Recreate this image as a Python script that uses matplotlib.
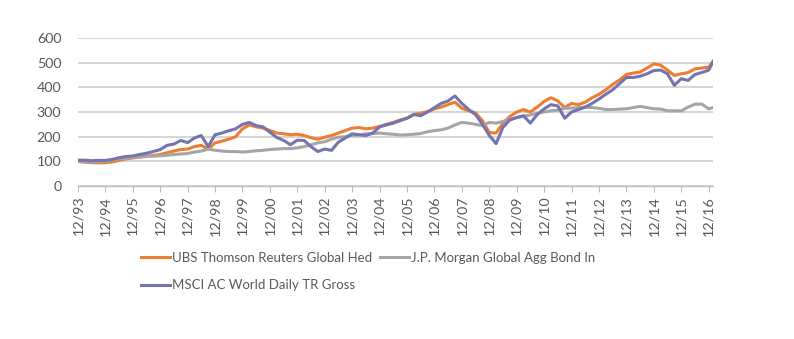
import matplotlib
matplotlib.use("Agg")
import matplotlib.pyplot as plt
import matplotlib.dates as mdates
import pandas as pd

# Quarter-end index levels, Dec 1993 through Dec 2016, plus Feb 2017
dates = list(pd.date_range("1993-12-31", "2016-12-31", freq="QE")) + [pd.Timestamp("2017-02-28")]

ubs_hf = [100,
          97, 95, 94, 95,
          98, 104, 110, 114,
          118, 122, 124, 128,
          135, 142, 148, 150,
          160, 165, 150, 175,
          182, 190, 200, 232,
          248, 240, 235, 225,
          215, 212, 208, 210,
          205, 196, 190, 198,
          205, 215, 225, 235,
          237, 232, 235, 242,
          250, 258, 268, 275,
          290, 295, 302, 313,
          320, 330, 340, 315,
          305, 296, 265, 217,
          215, 255, 282, 300,
          310, 300, 320, 343,
          358, 345, 318, 335,
          330, 340, 358, 372,
          390, 412, 430, 452,
          458, 462, 478, 495,
          490, 470, 448, 455,
          460, 475, 478, 482,
          505]

jpm_bond = [100,
            99, 98, 99, 100,
            105, 110, 113, 117,
            118, 120, 121, 123,
            125, 128, 130, 132,
            138, 142, 150, 145,
            142, 140, 140, 138,
            140, 143, 145, 148,
            150, 152, 152, 155,
            160, 167, 175, 180,
            190, 198, 200, 205,
            207, 212, 213, 215,
            212, 210, 207, 208,
            210, 213, 220, 225,
            228, 235, 248, 258,
            255, 250, 245, 258,
            255, 262, 270, 277,
            283, 288, 295, 300,
            305, 308, 315, 316,
            318, 320, 318, 315,
            310, 310, 312, 313,
            318, 323, 318, 313,
            312, 305, 305, 305,
            320, 332, 332, 313,
            318]

msci_acwi = [105,
             105, 103, 104, 104,
             108, 115, 120, 122,
             128, 133, 140, 148,
             165, 170, 185, 176,
             195, 205, 160, 208,
             215, 224, 232, 250,
             258, 245, 240, 218,
             197, 185, 168, 186,
             185, 160, 140, 150,
             145, 178, 195, 212,
             208, 205, 215, 240,
             248, 255, 265, 275,
             290, 285, 300, 318,
             335, 345, 365, 335,
             310, 290, 250, 205,
             172, 238, 268, 278,
             285, 255, 290, 313,
             330, 325, 275, 300,
             310, 320, 335, 353,
             372, 390, 415, 440,
             440, 445, 455, 468,
             470, 455, 408, 435,
             428, 452, 460, 470,
             505]

series_names = ["UBS Thomson Reuters Global Hed",
                "J.P. Morgan Global Agg Bond In",
                "MSCI AC World Daily TR Gross"]
series_colors = ["#ED7D31", "#A5A5A5", "#7474AE"]

y_ticks = [0, 100, 200, 300, 400, 500, 600]

plt.rcParams["font.family"] = ["Lato", "DejaVu Sans"]
text_color = "#595959"

fig = plt.figure(figsize=(7.94, 3.39), dpi=100)
ax = fig.add_axes([0.0982, 0.451, 0.8, 0.437])

lines = []
for vals, name, col in zip([ubs_hf, jpm_bond, msci_acwi], series_names, series_colors):
    ln, = ax.plot(dates, vals, color=col, lw=2.2, label=name, solid_joinstyle="round")
    lines.append(ln)

ax.set_ylim(0, 600)
ax.set_yticks(y_ticks)
ax.set_xlim(pd.Timestamp("1993-12-31"), pd.Timestamp("2017-02-28"))
ax.xaxis.set_major_locator(mdates.MonthLocator(bymonth=12, bymonthday=31))
ax.xaxis.set_major_formatter(mdates.DateFormatter("%m/%y"))

ax.grid(axis="y", color="#D6D6D6", lw=1.5)
ax.set_axisbelow(True)
for s in ["left", "right", "top"]:
    ax.spines[s].set_visible(False)
ax.spines["bottom"].set_color("#BFBFBF")
ax.spines["bottom"].set_linewidth(1.0)
ax.tick_params(axis="y", length=0, labelsize=10.3, labelcolor=text_color, pad=12)
ax.tick_params(axis="x", length=4, color="#BFBFBF", labelsize=10.3,
               labelcolor=text_color, labelrotation=90, pad=3)

order = [lines[0], lines[2], lines[1]]
fig.legend(order, [l.get_label() for l in order], ncol=2,
           loc="upper left", bbox_to_anchor=(0.178, 0.258), frameon=False,
           fontsize=9.5, labelcolor=text_color, handlelength=2.2,
           handletextpad=0.15, columnspacing=0.55, labelspacing=1.2,
           borderaxespad=0, borderpad=0)

fig.savefig("out.png", dpi=100)
